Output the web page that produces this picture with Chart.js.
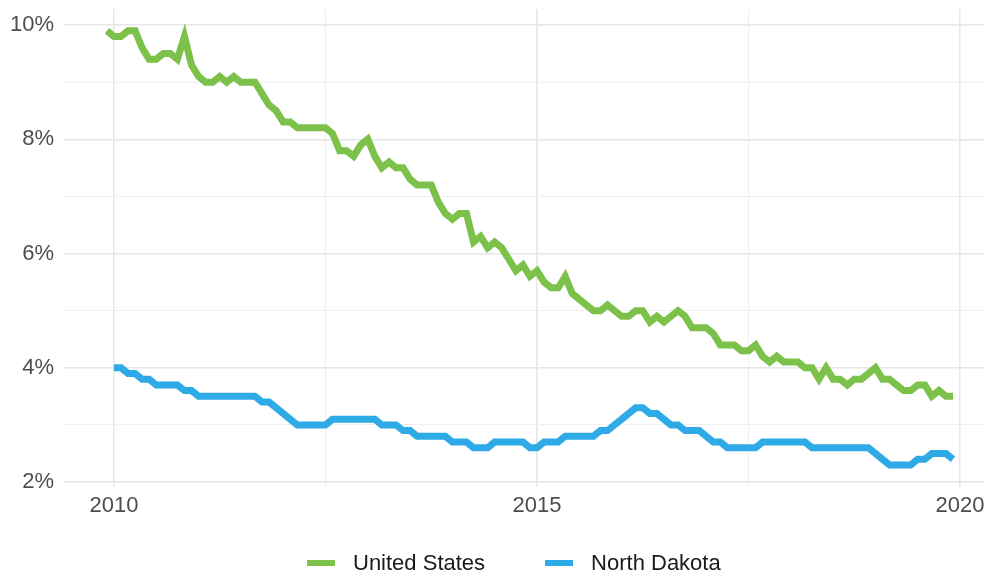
<!DOCTYPE html>
<html>
<head>
<meta charset="utf-8">
<script src="https://cdn.jsdelivr.net/npm/chart.js@4.4.1/dist/chart.umd.min.js"></script>
<style>
  html, body { margin: 0; padding: 0; background: #fff; }
  #wrap { position: relative; width: 984px; height: 580px; }
  #legend {
    position: absolute; left: 307px; top: 550px;
    display: flex; align-items: center; height: 26px;
    font-family: "Liberation Sans", Arial, sans-serif; font-size: 22px; color: #1a1a1a;
  }
  .item { display: flex; align-items: center; margin-right: 60px; }
  .item:last-child { margin-right: 0; }
  .swatch { width: 28px; height: 6px; margin-right: 18px; }
</style>
</head>
<body>
<div id="wrap">
  <canvas id="chart" width="984" height="580"></canvas>
  <div id="legend"></div>
</div>
<script>
// ======================
// DATA (monthly unemployment rate, %)
// ======================
// United States: Dec 2009 .. Dec 2019
const usStart = 2009 + 11 / 12;
const usRate = [
  9.9,
  9.8, 9.8, 9.9, 9.9, 9.6, 9.4, 9.4, 9.5, 9.5, 9.4, 9.8, 9.3,
  9.1, 9.0, 9.0, 9.1, 9.0, 9.1, 9.0, 9.0, 9.0, 8.8, 8.6, 8.5,
  8.3, 8.3, 8.2, 8.2, 8.2, 8.2, 8.2, 8.1, 7.8, 7.8, 7.7, 7.9,
  8.0, 7.7, 7.5, 7.6, 7.5, 7.5, 7.3, 7.2, 7.2, 7.2, 6.9, 6.7,
  6.6, 6.7, 6.7, 6.2, 6.3, 6.1, 6.2, 6.1, 5.9, 5.7, 5.8, 5.6,
  5.7, 5.5, 5.4, 5.4, 5.6, 5.3, 5.2, 5.1, 5.0, 5.0, 5.1, 5.0,
  4.9, 4.9, 5.0, 5.0, 4.8, 4.9, 4.8, 4.9, 5.0, 4.9, 4.7, 4.7,
  4.7, 4.6, 4.4, 4.4, 4.4, 4.3, 4.3, 4.4, 4.2, 4.1, 4.2, 4.1,
  4.1, 4.1, 4.0, 4.0, 3.8, 4.0, 3.8, 3.8, 3.7, 3.8, 3.8, 3.9,
  4.0, 3.8, 3.8, 3.7, 3.6, 3.6, 3.7, 3.7, 3.5, 3.6, 3.5, 3.5
];

// North Dakota: Jan 2010 .. Dec 2019
const ndStart = 2010;
const ndRate = [
  4.0, 4.0, 3.9, 3.9, 3.8, 3.8, 3.7, 3.7, 3.7, 3.7, 3.6, 3.6,
  3.5, 3.5, 3.5, 3.5, 3.5, 3.5, 3.5, 3.5, 3.5, 3.4, 3.4, 3.3,
  3.2, 3.1, 3.0, 3.0, 3.0, 3.0, 3.0, 3.1, 3.1, 3.1, 3.1, 3.1,
  3.1, 3.1, 3.0, 3.0, 3.0, 2.9, 2.9, 2.8, 2.8, 2.8, 2.8, 2.8,
  2.7, 2.7, 2.7, 2.6, 2.6, 2.6, 2.7, 2.7, 2.7, 2.7, 2.7, 2.6,
  2.6, 2.7, 2.7, 2.7, 2.8, 2.8, 2.8, 2.8, 2.8, 2.9, 2.9, 3.0,
  3.1, 3.2, 3.3, 3.3, 3.2, 3.2, 3.1, 3.0, 3.0, 2.9, 2.9, 2.9,
  2.8, 2.7, 2.7, 2.6, 2.6, 2.6, 2.6, 2.6, 2.7, 2.7, 2.7, 2.7,
  2.7, 2.7, 2.7, 2.6, 2.6, 2.6, 2.6, 2.6, 2.6, 2.6, 2.6, 2.6,
  2.5, 2.4, 2.3, 2.3, 2.3, 2.3, 2.4, 2.4, 2.5, 2.5, 2.5, 2.4
];

const seriesNames = ["United States", "North Dakota"];
const seriesColors = ["#7cc14a", "#2eaae6"];

const xTicks = [2010, 2012.5, 2015, 2017.5, 2020];
const yTicks = [2, 3, 4, 5, 6, 7, 8, 9, 10];

function toPoints(start, values) {
  return values.map((v, i) => ({ x: start + i / 12, y: v }));
}

const FONT = "'Liberation Sans', Arial, sans-serif";

const chart = new Chart(document.getElementById("chart"), {
  type: "line",
  data: {
    datasets: [
      {
        label: seriesNames[0],
        data: toPoints(usStart, usRate),
        borderColor: seriesColors[0],
        backgroundColor: seriesColors[0],
        borderWidth: 7,
        pointRadius: 0,
        tension: 0
      },
      {
        label: seriesNames[1],
        data: toPoints(ndStart, ndRate),
        borderColor: seriesColors[1],
        backgroundColor: seriesColors[1],
        borderWidth: 7,
        pointRadius: 0,
        tension: 0
      }
    ]
  },
  options: {
    responsive: false,
    animation: false,
    layout: { padding: { left: 0, top: 9, right: 0, bottom: 55 } },
    plugins: {
      legend: { display: false },
      tooltip: { enabled: false }
    },
    scales: {
      x: {
        type: "linear",
        min: 2009.41,
        max: 2020.283,
        afterBuildTicks: s => { s.ticks = xTicks.map(v => ({ value: v })); },
        afterFit: s => { s.paddingLeft = 0; s.paddingRight = 0; },
        border: { display: false },
        grid: {
          drawTicks: false,
          color: c => (c.tick && c.tick.value % 5 === 0 ? "#e6e6e6" : "#efefef"),
          lineWidth: c => (c.tick && c.tick.value % 5 === 0 ? 1.5 : 1)
        },
        ticks: {
          padding: 6,
          color: "#4d4d4d",
          font: { family: FONT, size: 22 },
          maxRotation: 0,
          autoSkip: false,
          callback: v => (v % 5 === 0 ? String(v) : "")
        }
      },
      y: {
        min: 1.92,
        max: 10.28,
        afterBuildTicks: s => { s.ticks = yTicks.map(v => ({ value: v })); },
        afterFit: s => { s.paddingTop = 0; s.paddingBottom = 0; },
        border: { display: false },
        grid: {
          drawTicks: false,
          color: c => (c.tick && c.tick.value % 2 === 0 ? "#e6e6e6" : "#efefef"),
          lineWidth: c => (c.tick && c.tick.value % 2 === 0 ? 1.5 : 1)
        },
        ticks: {
          padding: 10,
          color: "#4d4d4d",
          font: { family: FONT, size: 22 },
          autoSkip: false,
          callback: v => (v % 2 === 0 ? v + "%" : "")
        }
      }
    }
  }
});

// ======================
// LEGEND
// ======================
const legendEl = document.getElementById("legend");
chart.data.datasets.forEach(ds => {
  const item = document.createElement("div");
  item.className = "item";
  const sw = document.createElement("span");
  sw.className = "swatch";
  sw.style.background = ds.borderColor;
  const txt = document.createElement("span");
  txt.textContent = ds.label;
  item.appendChild(sw);
  item.appendChild(txt);
  legendEl.appendChild(item);
});
</script>
</body>
</html>
